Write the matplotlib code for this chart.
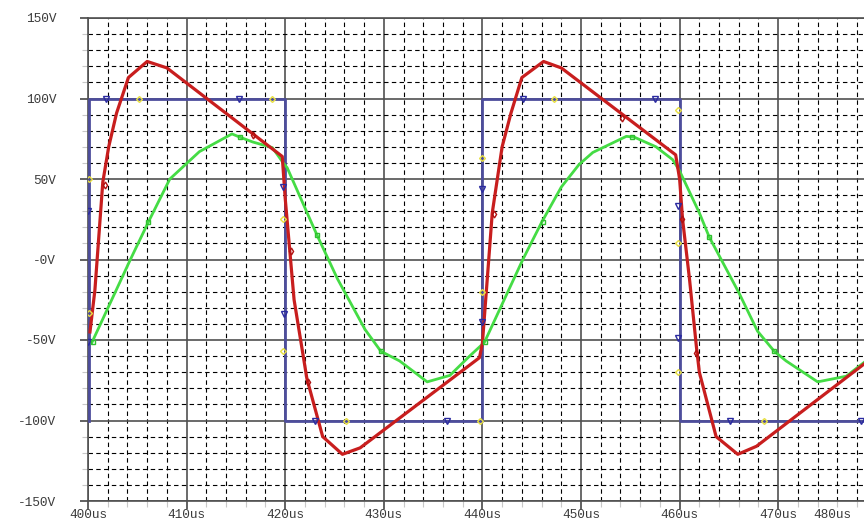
import matplotlib
matplotlib.use("Agg")
import matplotlib.pyplot as plt
from matplotlib.ticker import FixedLocator, MultipleLocator

# ---- data (time in us, voltage in V) ----
blue_t = [400.1, 400.1, 420.0, 420.0, 440.0, 440.0, 460.0, 460.0, 479.0]
blue_v = [-100, 100, 100, -100, -100, 100, 100, -100, -100]

red_t = [400.2, 400.7, 401.5, 402.1, 402.9, 404.1, 406.0, 408.0, 419.7, 420.0,
         420.4, 420.9, 422.2, 423.8, 425.8, 427.6, 439.7, 440.0, 441.0, 442.0,
         442.9, 444.0, 446.2, 448.0, 459.6, 460.0, 460.3, 461.0, 461.7, 462.0,
         463.7, 465.9, 467.8, 478.9]
red_v = [-45, -19, 48, 70, 91, 113, 123, 119, 64, 38,
         10, -25, -74, -110, -121, -117, -61, -52, 29, 70,
         91, 113, 123, 119, 65, 50, 25, -12, -54, -70,
         -110, -121, -116, -64]

green_t = [400.4, 404.3, 406.1, 408.3, 411.3, 414.6, 415.4, 416.7, 418.7, 419.8,
           420.2, 423.2, 425.3, 428.1, 429.7, 431.6, 434.4, 436.7, 438.7, 440.2,
           444.1, 446.0, 448.0, 449.8, 451.2, 454.6, 455.4, 457.6, 459.3, 460.0,
           462.0, 463.0, 466.0, 467.9, 469.6, 470.8, 474.0, 476.9, 478.9]
green_v = [-51.5, 0, 23, 50, 67, 78, 76, 73, 69.5, 60,
           57, 15.5, -12, -43.5, -57, -63, -76, -72, -60, -51.5,
           0, 23, 45, 59, 66.5, 76.5, 76, 70, 62, 55,
           29, 14, -20.5, -44.5, -57, -63, -76, -72.5, -63]

# trace symbols (PSpice style markers)
blue_mt = [400.0, 400.0, 401.8, 415.3, 419.8, 419.9, 423.0, 436.4,
           440.0, 440.0, 444.1, 457.5, 459.8, 459.8, 465.1, 478.4]
blue_mv = [30, -51.5, 100, 100, 45, -34, -100, -100,
           43.5, -39, 100, 100, 33, -48.5, -100, -100]
yellow_mt = [400.1, 400.1, 405.2, 418.7, 419.8, 419.8, 426.2, 439.8,
             440.0, 440.0, 447.3, 459.8, 459.8, 459.8, 468.6]
yellow_mv = [50, -33, 100, 100, 25, -57, -100, -100,
             63, -20, 100, 93, 10.5, -70, -100]
red_mt = [401.7, 416.7, 420.6, 422.3, 441.2, 454.2, 460.2, 461.7]
red_mv = [46.5, 77.6, 5, -76, 28, 88, 25, -58]
green_mt = [400.5, 406.1, 415.4, 423.2, 429.7, 440.3, 446.1, 455.2, 463.0, 469.6]
green_mv = [-51.5, 23, 76, 15.5, -57, -51.5, 23, 76, 14, -57]

x_ticks = [400, 410, 420, 430, 440, 450, 460, 470]
x_labels = ["400us", "410us", "420us", "430us", "440us", "450us", "460us", "470us"]
last_label = "480us"
last_label_pos = 475.5
y_ticks = [-150, -100, -50, 0, 50, 100, 150]
y_labels = ["-150V", "-100V", "-50V", "-0V", "50V", "100V", "150V"]

# ---- figure ----
fig = plt.figure(figsize=(8.64, 5.22), dpi=100)
fig.patch.set_facecolor("white")
ax = fig.add_axes([88 / 864, 21 / 522, 776 / 864, 483 / 522])
ax.set_xlim(400, 478.7)
ax.set_ylim(-150, 150)

fsize = 9.2
font = dict(family="Liberation Mono", size=fsize, color="#3a3a3a")

ax.xaxis.set_major_locator(FixedLocator(x_ticks))
ax.set_xticklabels(x_labels, fontdict=font)
ax.yaxis.set_major_locator(FixedLocator(y_ticks))
ax.set_yticklabels(y_labels, fontdict=font)
ax.xaxis.set_minor_locator(MultipleLocator(2))
ax.yaxis.set_minor_locator(MultipleLocator(10))

ax.tick_params(which="major", direction="out", width=1.3, color="#555555")
ax.tick_params(axis="x", which="major", length=6, pad=0)
ax.tick_params(axis="y", which="major", length=6, pad=17)
ax.tick_params(which="minor", direction="out", length=4, width=0.8,
               color="#c8c8c8")

ax.grid(which="major", color="#505050", linewidth=1.2, linestyle="-", zorder=1)
ax.grid(which="minor", color="#000000", linewidth=0.8, linestyle=(0, (4, 3)), zorder=1)
ax.set_axisbelow(True)
for s in ax.spines.values():
    s.set_color("#505050")
    s.set_linewidth(1.2)
ax.spines["right"].set_visible(False)

ax.annotate(last_label, xy=(last_label_pos, 0), xycoords=("data", "axes fraction"),
            xytext=(0, -6), textcoords="offset points", ha="center", va="top",
            fontfamily="Liberation Mono", fontsize=fsize, color="#3a3a3a",
            annotation_clip=False)

# traces
ax.plot(blue_t, blue_v, color="#4d4d9c", linewidth=2.0, zorder=3, clip_on=False)
ax.plot(green_t, green_v, color="#45dc45", linewidth=2.0, zorder=4)
ax.plot(red_t, red_v, color="#c81e1e", linewidth=2.3, zorder=5)

ax.plot(blue_mt, blue_mv, linestyle="none", marker="v", markersize=4,
        markerfacecolor="none", markeredgecolor="#2a2aa0", markeredgewidth=1.0, zorder=6)
ax.plot(yellow_mt, yellow_mv, linestyle="none", marker="D", markersize=3,
        markerfacecolor="none", markeredgecolor="#e8e040", markeredgewidth=1.0, zorder=6)
ax.plot(red_mt, red_mv, linestyle="none", marker="d", markersize=3.5,
        markerfacecolor="none", markeredgecolor="#b01010", markeredgewidth=1.0, zorder=6)
ax.plot(green_mt, green_mv, linestyle="none", marker="s", markersize=3,
        markerfacecolor="none", markeredgecolor="#30c030", markeredgewidth=1.0, zorder=6)

fig.savefig("out.png", dpi=100, facecolor="white")
